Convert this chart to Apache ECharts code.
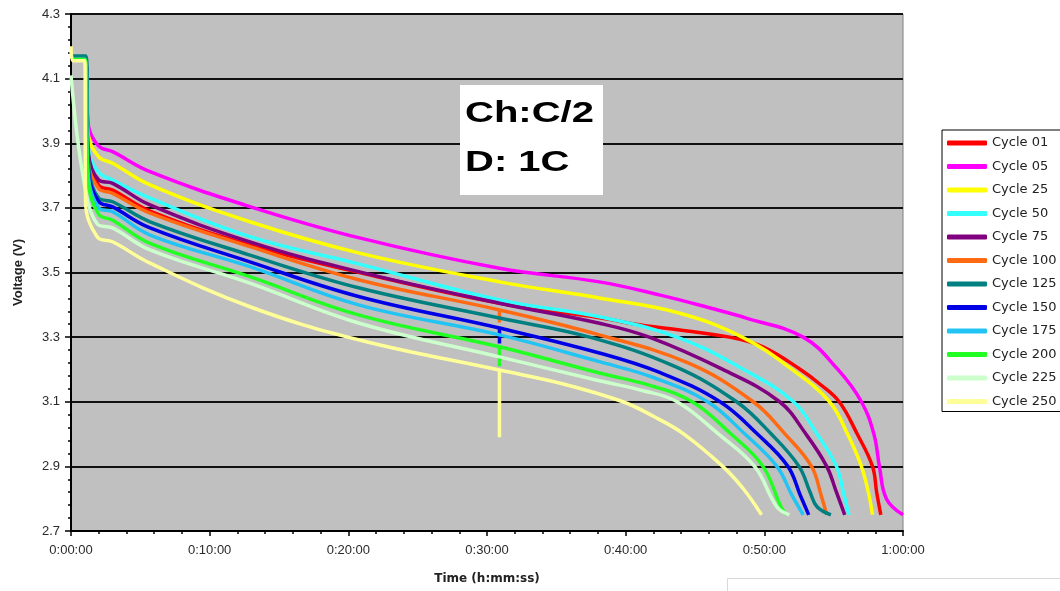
<!DOCTYPE html>
<html><head><meta charset="utf-8">
<script src="https://cdn.jsdelivr.net/npm/echarts@6/dist/echarts.min.js"></script>
<style>html,body{margin:0;padding:0;background:#fff}#chart{width:1060px;height:591px}</style>
</head><body><div id="chart"></div>
<script>
// time in minutes, voltage in V
const seriesNames = ['Cycle 01','Cycle 05','Cycle 25','Cycle 50','Cycle 75','Cycle 100','Cycle 125','Cycle 150','Cycle 175','Cycle 200','Cycle 225','Cycle 250'];
const seriesColors = ['#ff0000','#ff00ff','#ffff00','#33ffff','#800080','#ff6a13','#008080','#0000e6','#22c4f4','#22ff22','#ccffcc','#ffff99'];

const cycle01 = [[0,4.16],[1.0,4.16],[1.25,3.86],[2.0,3.77],[3,3.755],[5.7,3.69],[12.9,3.585],[20.8,3.50],[30.9,3.405],[38.1,3.36],[41.2,3.337],[43.9,3.322],[47.5,3.30],[49.9,3.27],[52.6,3.2],[54.0,3.155],[55.4,3.1],[56.7,3.0],[57.8,2.9],[58.1,2.82],[58.4,2.75]];
const cycle05 = [[0,4.16],[1.0,4.16],[1.25,3.956],[2.0,3.891],[3,3.874],[5.7,3.812],[12.9,3.704],[20.8,3.607],[30.9,3.513],[38.1,3.471],[42.5,3.43],[46.1,3.39],[48.7,3.359],[52.8,3.30],[55.3,3.2],[57.0,3.1],[57.9,3.0],[58.3,2.9],[58.8,2.80],[60.0,2.75]];
const cycle25 = [[0,4.16],[1.0,4.16],[1.25,3.925],[2.0,3.858],[3,3.838],[5.7,3.771],[12.9,3.657],[20.8,3.56],[30.9,3.471],[38.1,3.421],[43.9,3.374],[48.4,3.3],[52.0,3.2],[54.7,3.1],[56.0,3.0],[57.0,2.9],[57.5,2.82],[57.8,2.75]];
const cycle50 = [[0,4.16],[1.0,4.16],[1.25,3.88],[2.0,3.81],[3,3.786],[5.7,3.73],[12.9,3.611],[20.8,3.526],[30.9,3.415],[38.1,3.363],[43.7,3.3],[48.5,3.2],[52.1,3.1],[53.8,3.0],[55.2,2.9],[55.7,2.82],[56.1,2.75]];
const cycle75 = [[0,4.16],[1.0,4.16],[1.25,3.87],[2.0,3.786],[3,3.776],[5.7,3.709],[12.9,3.595],[20.8,3.502],[30.9,3.405],[38.1,3.343],[41.7,3.30],[47.0,3.2],[51.1,3.1],[53.0,3.0],[54.5,2.9],[55.2,2.82],[55.8,2.75]];
const cycle100 = [[0,4.16],[1.0,4.16],[1.25,3.84],[2.0,3.76],[3,3.745],[5.7,3.684],[12.9,3.58],[20.8,3.477],[30.9,3.384],[38.1,3.307],[44.5,3.22],[49.2,3.1],[51.5,3.0],[53.4,2.9],[54.1,2.81],[54.5,2.75]];
const cycle125 = [[0,4.17],[1.05,4.17],[1.3,3.82],[2.0,3.73],[3,3.719],[5.7,3.657],[12.9,3.554],[20.8,3.452],[30.9,3.359],[37.4,3.30],[43.5,3.21],[48.0,3.1],[50.5,3.0],[52.5,2.9],[53.3,2.82],[53.8,2.775],[54.8,2.75]];
const cycle150 = [[0,4.16],[1.0,4.16],[1.25,3.81],[2.0,3.72],[3,3.703],[5.7,3.638],[12.9,3.533],[20.8,3.425],[30.9,3.328],[38.1,3.251],[42.5,3.19],[46.8,3.1],[49.5,3.0],[51.7,2.9],[52.6,2.81],[53.2,2.75]];
const cycle175 = [[0,4.16],[1.0,4.16],[1.25,3.80],[2.0,3.70],[3,3.688],[5.7,3.616],[12.9,3.518],[20.8,3.399],[30.9,3.307],[38.1,3.224],[42.0,3.175],[45.9,3.1],[48.6,3.0],[50.9,2.9],[52.0,2.81],[52.8,2.75]];
const cycle200 = [[0,4.16],[1.0,4.16],[1.25,3.78],[2.0,3.68],[3,3.662],[5.7,3.59],[12.9,3.487],[20.8,3.368],[30.9,3.27],[38.1,3.189],[41.8,3.15],[44.8,3.1],[47.6,3.0],[49.9,2.9],[51.2,2.775],[51.6,2.75]];
const cycle225 = [[0,4.11],[0.9,3.79],[1.9,3.65],[3,3.638],[5.7,3.57],[12.9,3.467],[20.8,3.343],[30.9,3.239],[38.1,3.165],[41.2,3.135],[43.7,3.1],[46.7,3.0],[49.3,2.9],[50.9,2.775],[51.8,2.75]];
const cycle250 = [[0,4.20],[0.15,4.155],[1.0,4.155],[1.05,3.72],[1.9,3.61],[3,3.595],[5.7,3.529],[12.9,3.394],[20.8,3.291],[30.9,3.198],[35.5,3.155],[39.8,3.10],[42.0,3.055],[44.2,3.0],[47.0,2.9],[48.5,2.83],[49.8,2.75]];
const seriesData = [cycle01,cycle05,cycle25,cycle50,cycle75,cycle100,cycle125,cycle150,cycle175,cycle200,cycle225,cycle250];

// short vertical glitches in the logged data at ~0:30:54
const glitch100 = [[30.9,3.384],[30.9,3.345]];
const glitch150 = [[30.9,3.328],[30.9,3.28]];
const glitch200 = [[30.9,3.27],[30.9,3.21]];
const glitch250 = [[30.9,3.198],[30.9,2.99]];
const glitchSeries = [[5,glitch100],[7,glitch150],[9,glitch200],[11,glitch250]];

const xTickLabels = ['0:00:00','0:10:00','0:20:00','0:30:00','0:40:00','0:50:00','1:00:00'];
const yTickLabels = ['2.7','2.9','3.1','3.3','3.5','3.7','3.9','4.1','4.3'];
const annotationLines = ['Ch:C/2','D: 1C'];

const chart = echarts.init(document.getElementById('chart'), null, {renderer:'canvas'});
const labelFont = {fontFamily:'Arial, "Liberation Sans", sans-serif', fontSize:13, color:'#2a2a2a'};

const lineSeries = seriesNames.map((n,i) => ({
  name:n, type:'line', data:seriesData[i], color:seriesColors[i],
  showSymbol:false, symbol:'none', smooth:0.4,
  lineStyle:{width:3.5, color:seriesColors[i]}, z:2+i
}));
const spikeSeries = glitchSeries.map(([i,d]) => ({
  name:seriesNames[i], type:'line', data:d, color:seriesColors[i],
  showSymbol:false, symbol:'none', smooth:false,
  lineStyle:{width:3.5, color:seriesColors[i]}, z:2+i
}));

chart.setOption({
  animation:false,
  backgroundColor:'#ffffff',
  grid:{left:71, right:157, top:14, bottom:60, show:true, backgroundColor:'#c0c0c0', borderColor:'#808080', borderWidth:1},
  xAxis:{
    type:'value', min:0, max:60, interval:10,
    name:'Time (h:mm:ss)', nameLocation:'middle', nameGap:42,
    nameTextStyle:{fontFamily:'"DejaVu Sans", sans-serif', fontWeight:'bold', fontSize:12, color:'#222'},
    axisLine:{show:true, lineStyle:{color:'#000', width:2}},
    axisTick:{show:true, length:5, lineStyle:{color:'#000', width:1.5}},
    minorTick:{show:true, splitNumber:5, length:3, lineStyle:{color:'#000', width:1.5}},
    splitLine:{show:false},
    axisLabel:Object.assign({margin:13, formatter:v => xTickLabels[Math.round(v/10)]}, labelFont)
  },
  yAxis:{
    type:'value', min:2.7, max:4.3, interval:0.2,
    name:'Voltage (V)', nameLocation:'middle', nameGap:46,
    nameTextStyle:{fontFamily:'Arial, "Liberation Sans", sans-serif', fontWeight:'bold', fontSize:13, color:'#222'},
    axisLine:{show:true, lineStyle:{color:'#000', width:2}},
    axisTick:{show:true, length:6, lineStyle:{color:'#000', width:1.5}},
    minorTick:{show:true, splitNumber:5, length:3, lineStyle:{color:'#000', width:1.5}},
    splitLine:{show:true, lineStyle:{color:'#111', width:2}},
    axisLabel:Object.assign({margin:11, formatter:v => yTickLabels[Math.round((v-2.7)/0.2)]}, labelFont)
  },
  legend:{
    orient:'vertical', left:942, top:130, padding:[6,30,3,5], itemGap:9.5,
    itemWidth:40, itemHeight:5, icon:'roundRect',
    borderColor:'#000', borderWidth:1, backgroundColor:'#fff',
    selectedMode:false,
    textStyle:{fontFamily:'"DejaVu Sans", sans-serif', fontSize:13, color:'#222', lineHeight:14},
    data:seriesNames
  },
  graphic:[
    {type:'rect', left:460, top:85, shape:{width:143, height:110}, style:{fill:'#fff'}, z:100},
    {type:'text', x:465, y:114, scaleX:1.38, z:101, style:{text:annotationLines[0], font:'bold 29px Arial, "Liberation Sans", sans-serif', fill:'#000', verticalAlign:'middle'}},
    {type:'text', x:465, y:163, scaleX:1.38, z:101, style:{text:annotationLines[1], font:'bold 29px Arial, "Liberation Sans", sans-serif', fill:'#000', verticalAlign:'middle'}},
    {type:'rect', left:727, top:578, shape:{width:340, height:20}, style:{fill:'#fff', stroke:'#d9d9d9', lineWidth:1}, z:1}
  ],
  series: lineSeries.concat(spikeSeries)
});
</script></body></html>
